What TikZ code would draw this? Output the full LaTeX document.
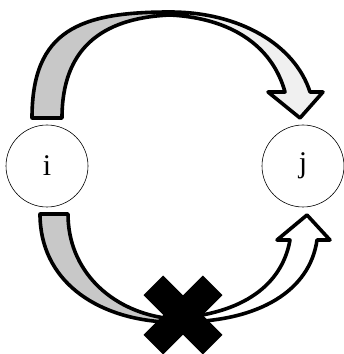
\documentclass[tikz,border=0pt]{standalone}
\usepackage{fontspec}
\setmainfont{Liberation Serif}
\usepackage{tikz}
\usetikzlibrary{positioning}
\definecolor{ink}{HTML}{000000}
\definecolor{tailcol}{HTML}{C8C8C8}
\definecolor{headcol}{HTML}{F0F0F0}

\begin{document}
\begin{tikzpicture}[x=1pt, y=1pt, line join=round,
  vertex/.style={circle, draw=ink, line width=0.6pt, minimum size=82pt,
    inner sep=0pt, font=\fontsize{30}{30}\selectfont},
  bodyline/.style={draw=ink, line width=3.6pt}]
\useasboundingbox (0,0) rectangle (344,354);

\def\H{13.8}   % half width of a bar of the cross

% ================================================================ states
\node[vertex] (i) at (47,188) {i};
\node[vertex] (j) at (303,188) {j};

% ================================================================ upper arrow
\fill[tailcol] (32,236) .. controls (32,324) and (80,342) .. (170,342)
  -- (170,339) .. controls (100,336) and (62,304) .. (62,236) -- cycle;
\fill[headcol] (170,342) .. controls (240,342) and (295,309) .. (310,262)
  -- (323,262) -- (300,236) -- (268,262) -- (285,262)
  .. controls (272,309) and (230,336) .. (170,339) -- cycle;
\path[bodyline] (32,236) .. controls (32,324) and (80,342) .. (170,342)
  .. controls (240,342) and (295,309) .. (310,262)
  -- (323,262) -- (300,236) -- (268,262) -- (285,262)
  .. controls (272,309) and (230,336) .. (170,339)
  .. controls (100,336) and (62,304) .. (62,236) -- cycle;

% ================================================================ lower arrow
\fill[tailcol] (40,140) .. controls (40,74) and (95,36) .. (165,32)
  -- (165,36) .. controls (110,44) and (68,84) .. (68,140) -- cycle;
\fill[white] (180,32) .. controls (260,32) and (310,64) .. (317,114)
  -- (330,114) -- (307,139) -- (277,114) -- (290,114)
  .. controls (283,74) and (250,42) .. (180,36) -- cycle;
\path[bodyline] (40,140) .. controls (40,74) and (95,36) .. (165,32)
  -- (165,36) .. controls (110,44) and (68,84) .. (68,140) -- cycle;
\path[bodyline] (180,32) .. controls (260,32) and (310,64) .. (317,114)
  -- (330,114) -- (307,139) -- (277,114) -- (290,114)
  .. controls (283,74) and (250,42) .. (180,36) -- cycle;

% the blocked transition
\begin{scope}[shift={(183,39)}]
  \fill[ink, rotate=45] (-42,-\H) rectangle (42,\H);
  \fill[ink, rotate=-45] (-42,-\H) rectangle (42,\H);
\end{scope}

\end{tikzpicture}
\end{document}
